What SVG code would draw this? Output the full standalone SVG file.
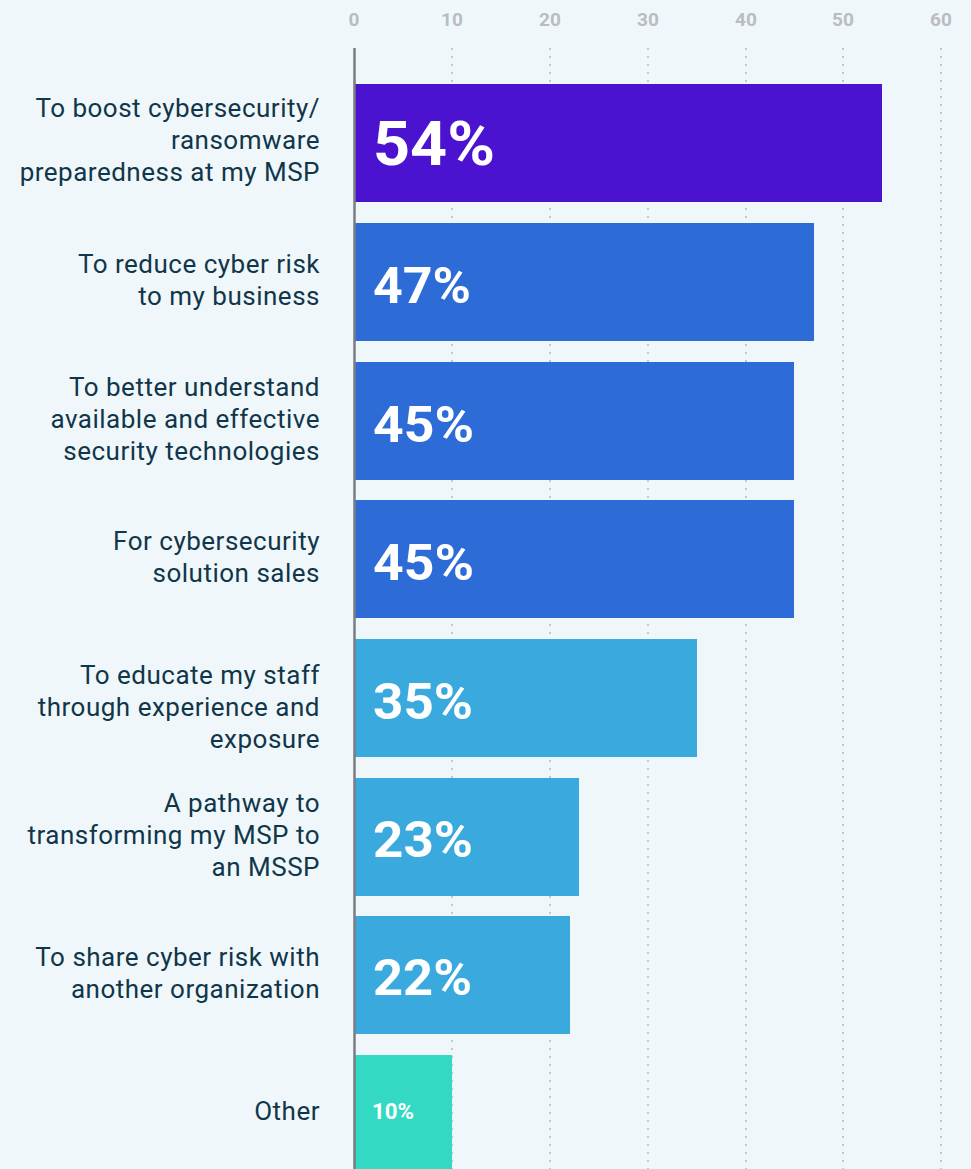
<svg xmlns="http://www.w3.org/2000/svg" width="971" height="1169" viewBox="0 0 971 1169">
<style>
.lbl{font-family:Roboto,"Liberation Sans",sans-serif;font-size:26px;letter-spacing:0.5px;fill:#10364a;text-anchor:end}
.tick{font-family:Roboto,"Liberation Sans",sans-serif;font-size:19px;font-weight:700;fill:#b9bdc2;text-anchor:middle}
.pct{font-family:Roboto,"Liberation Sans",sans-serif;font-weight:700;fill:#ffffff}
.grid{stroke:#c3c7cb;stroke-width:2;stroke-dasharray:2 6}
</style>
<rect width="971" height="1169" fill="#f0f7fb"/>
<g id="axis">
<text class="tick" x="354" y="26">0</text>
<text class="tick" x="452" y="26">10</text>
<text class="tick" x="550" y="26">20</text>
<text class="tick" x="648" y="26">30</text>
<text class="tick" x="746" y="26">40</text>
<text class="tick" x="843" y="26">50</text>
<text class="tick" x="941" y="26">60</text>
<line class="grid" x1="452" y1="48" x2="452" y2="1169"/>
<line class="grid" x1="550" y1="48" x2="550" y2="1169"/>
<line class="grid" x1="648" y1="48" x2="648" y2="1169"/>
<line class="grid" x1="746" y1="48" x2="746" y2="1169"/>
<line class="grid" x1="843" y1="48" x2="843" y2="1169"/>
<line class="grid" x1="941" y1="48" x2="941" y2="1169"/>
</g>
<g id="bar1">
<rect x="355" y="84" width="527" height="118" fill="#4b12d0"/>
<text class="pct" x="373" y="165" font-size="62" textLength="122" lengthAdjust="spacingAndGlyphs">54%</text>
<text class="lbl" x="320" y="117">To boost cybersecurity/</text>
<text class="lbl" x="320" y="149">ransomware</text>
<text class="lbl" x="320" y="181">preparedness at my MSP</text>
</g>
<g id="bar2">
<rect x="355" y="223" width="459" height="118" fill="#2d6cd7"/>
<text class="pct" x="373" y="303" font-size="50" textLength="98" lengthAdjust="spacingAndGlyphs">47%</text>
<text class="lbl" x="320" y="273">To reduce cyber risk</text>
<text class="lbl" x="320" y="305">to my business</text>
</g>
<g id="bar3">
<rect x="355" y="362" width="439" height="118" fill="#2d6cd7"/>
<text class="pct" x="373" y="442" font-size="50" textLength="101" lengthAdjust="spacingAndGlyphs">45%</text>
<text class="lbl" x="320" y="396">To better understand</text>
<text class="lbl" x="320" y="428">available and effective</text>
<text class="lbl" x="320" y="460">security technologies</text>
</g>
<g id="bar4">
<rect x="355" y="500" width="439" height="118" fill="#2d6cd7"/>
<text class="pct" x="373" y="580" font-size="50" textLength="101" lengthAdjust="spacingAndGlyphs">45%</text>
<text class="lbl" x="320" y="550">For cybersecurity</text>
<text class="lbl" x="320" y="582">solution sales</text>
</g>
<g id="bar5">
<rect x="355" y="639" width="342" height="118" fill="#3aaade"/>
<text class="pct" x="373" y="719" font-size="50" textLength="100" lengthAdjust="spacingAndGlyphs">35%</text>
<text class="lbl" x="320" y="684">To educate my staff</text>
<text class="lbl" x="320" y="716">through experience and</text>
<text class="lbl" x="320" y="748">exposure</text>
</g>
<g id="bar6">
<rect x="355" y="778" width="224" height="118" fill="#3aaade"/>
<text class="pct" x="373" y="857" font-size="50" textLength="100" lengthAdjust="spacingAndGlyphs">23%</text>
<text class="lbl" x="320" y="812">A pathway to</text>
<text class="lbl" x="320" y="844">transforming my MSP to</text>
<text class="lbl" x="320" y="876">an MSSP</text>
</g>
<g id="bar7">
<rect x="355" y="916" width="215" height="118" fill="#3aaade"/>
<text class="pct" x="373" y="995" font-size="50" textLength="99" lengthAdjust="spacingAndGlyphs">22%</text>
<text class="lbl" x="320" y="966">To share cyber risk with</text>
<text class="lbl" x="320" y="998">another organization</text>
</g>
<g id="bar8">
<rect x="355" y="1055" width="97" height="114" fill="#33d9c2"/>
<text class="pct" x="372" y="1119" font-size="22" textLength="42" lengthAdjust="spacingAndGlyphs">10%</text>
<text class="lbl" x="320" y="1120">Other</text>
</g>
<g id="connectors">
<line x1="354.5" y1="48" x2="354.5" y2="1169" stroke="#7a7d81" stroke-width="2.5"/>
</g>
</svg>
